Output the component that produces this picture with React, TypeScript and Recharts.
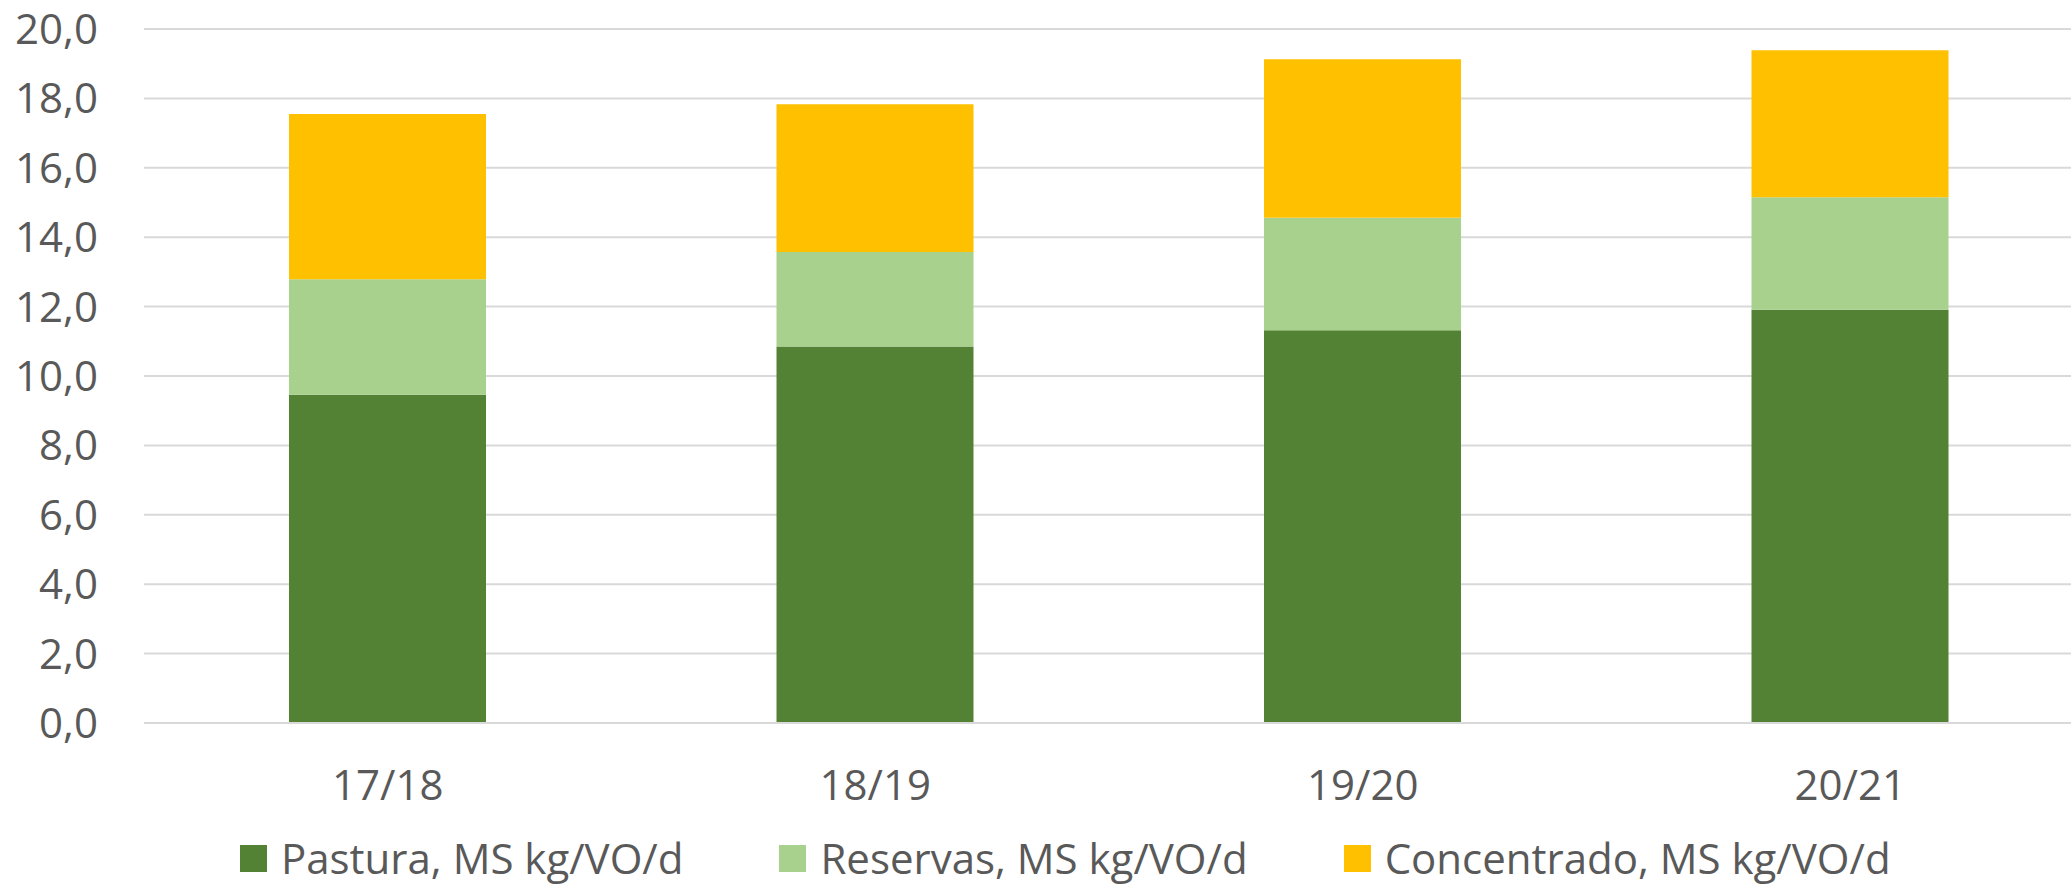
import React from 'react';
import { BarChart, Bar, XAxis, YAxis, CartesianGrid, Legend } from 'recharts';

const seasons = ['17/18', '18/19', '19/20', '20/21'];
const pastura = [9.46, 10.85, 11.32, 11.91];
const reservas = [3.33, 2.72, 3.24, 3.24];
const concentrado = [4.76, 4.26, 4.57, 4.24];
const yTicks = [0, 2, 4, 6, 8, 10, 12, 14, 16, 18, 20];

const SERIES = [
    { key: 'pastura', name: 'Pastura, MS kg/VO/d', color: '#548235' },
    { key: 'reservas', name: 'Reservas, MS kg/VO/d', color: '#A9D18E' },
    { key: 'concentrado', name: 'Concentrado, MS kg/VO/d', color: '#FFC000' },
];

const data = seasons.map((season, i) => ({
    season,
    pastura: pastura[i],
    reservas: reservas[i],
    concentrado: concentrado[i],
}));

const FONT = '"Open Sans", sans-serif';
const TEXT = '#595959';

const fmt = (v: number) => v.toFixed(1).replace('.', ',');

function LegendContent() {
    return (
        <div style={{ display: 'flex', alignItems: 'center', paddingLeft: 240, paddingTop: 8, fontFamily: FONT, fontSize: 42, lineHeight: '42px', color: TEXT }}>
            {SERIES.map(s => (
                <div key={s.key} style={{ display: 'flex', alignItems: 'center', marginRight: 96 }}>
                    <span style={{ width: 27, height: 27, background: s.color, marginRight: 14, display: 'inline-block' }} />
                    <span style={{ whiteSpace: 'nowrap' }}>{s.name}</span>
                </div>
            ))}
        </div>
    );
}

export default function App() {
    return (
        <div style={{ position: 'absolute', left: 0, top: 0, width: 2071, height: 889, overflow: 'hidden', background: '#fff' }}>
            <BarChart width={2094} height={889} data={data} margin={{ top: 29, right: 0, bottom: 0, left: 0 }}>
                <CartesianGrid vertical={false} stroke="#D9D9D9" strokeWidth={2} />
                <XAxis
                    dataKey="season"
                    height={106}
                    axisLine={{ stroke: '#D9D9D9', strokeWidth: 2 }}
                    tickLine={false}
                    tickSize={0}
                    tickMargin={47}
                    tick={{ fill: TEXT, fontSize: 42, fontFamily: FONT }}
                />
                <YAxis
                    width={144}
                    domain={[0, 20]}
                    ticks={yTicks}
                    tickFormatter={fmt}
                    axisLine={false}
                    tickLine={false}
                    tickSize={0}
                    tickMargin={46}
                    tick={{ fill: TEXT, fontSize: 42, fontFamily: FONT }}
                />
                <Legend verticalAlign="bottom" height={60} content={<LegendContent />} />
                {SERIES.map(s => (
                    <Bar key={s.key} dataKey={s.key} name={s.name} stackId="a" fill={s.color} barSize={197} isAnimationActive={false} />
                ))}
            </BarChart>
        </div>
    );
}
